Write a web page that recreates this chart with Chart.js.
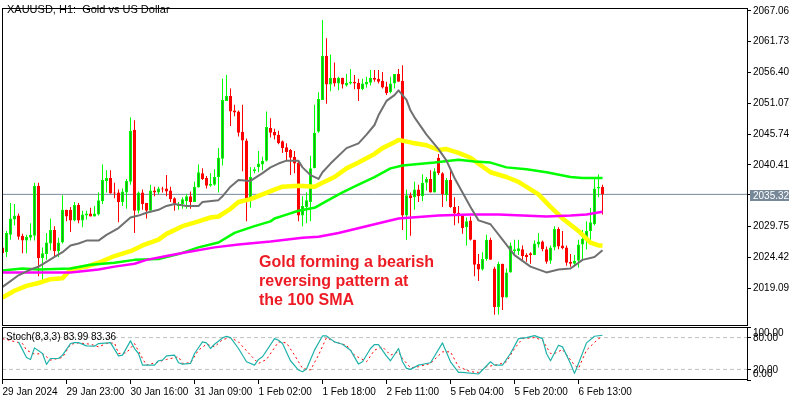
<!DOCTYPE html>
<html>
<head>
<meta charset="utf-8">
<style>
html,body{margin:0;padding:0;background:#fff;width:800px;height:400px;overflow:hidden}
canvas{position:absolute;left:0}
#mainBox{position:absolute;left:0;top:0;width:800px;height:327px}
#stochBox{position:absolute;left:0;top:326px;width:800px;height:74px}
</style>
<script src="https://cdn.jsdelivr.net/npm/chart.js@4/dist/chart.umd.js"></script>
</head>
<body>
<div id="mainBox"><canvas id="mainChart"></canvas></div>
<div id="stochBox"><canvas id="stochChart"></canvas></div>
<script>
const chartTitle = "XAUUSD, H1:  Gold vs US Dollar";
const noteLines = ["Gold forming a bearish", "reversing pattern at", "the 100 SMA"];
const stochLabel = "Stoch(8,3,3) 83.99 83.36";
const bidPrice = 2035.32;
const priceTicks = [2067.06,2061.73,2056.40,2051.07,2045.74,2040.41,2029.75,2024.42,2019.09];
const stochTicks = [100,80,20,0];
const stochLevels = [80,20];
const timeTickBars = [0,16,32,48,64,80,96,112,128,144];
const timeTickLabels = ["29 Jan 2024","29 Jan 23:00","30 Jan 16:00","31 Jan 09:00","1 Feb 02:00","1 Feb 18:00","2 Feb 11:00","5 Feb 04:00","5 Feb 20:00","6 Feb 13:00"];

const opens = [2026.15,2025.32,2028.32,2030.99,2031.65,2028.15,2027.32,2027.82,2028.15,2036.82,
2024.32,2024.99,2026.82,2029.15,2025.49,2026.99,2032.65,2032.65,2030.82,2033.49,
2030.82,2031.65,2031.99,2031.49,2031.82,2034.15,2037.65,2038.15,2035.65,2035.65,
2033.99,2035.65,2037.49,2046.49,2032.49,2035.65,2033.82,2032.49,2035.99,2035.65,
2036.32,2036.32,2035.99,2034.65,2033.32,2033.65,2034.15,2034.99,2033.99,2036.49,
2038.99,2038.15,2036.82,2036.99,2038.32,2041.49,2051.49,2052.32,2049.82,2049.65,
2046.15,2044.65,2034.65,2039.32,2039.99,2040.49,2041.15,2046.82,2046.15,2045.65,
2044.49,2043.49,2042.99,2041.82,2040.82,2031.65,2033.15,2033.99,2039.82,2046.15,
2051.65,2059.32,2054.32,2055.49,2054.49,2055.49,2054.15,2054.49,2054.82,2054.65,
2053.49,2054.32,2054.65,2055.49,2055.32,2054.99,2053.99,2052.99,2054.49,2056.15,
2054.99,2031.65,2035.15,2034.82,2036.15,2034.99,2037.32,2037.99,2035.65,2041.65,
2038.99,2035.15,2037.82,2033.15,2032.15,2031.82,2029.65,2030.82,2027.49,2023.32,
2022.32,2024.15,2027.49,2022.49,2015.82,2023.32,2017.49,2021.82,2025.49,2025.49,
2025.82,2024.82,2025.15,2024.82,2026.65,2027.15,2025.82,2023.82,2026.15,2029.32,
2026.49,2026.15,2023.65,2023.32,2023.82,2026.65,2027.65,2028.99,2030.15,2036.32,2036.65];
const highs = [2026.65,2028.99,2033.82,2033.65,2031.99,2028.49,2028.32,2030.32,2037.32,2037.32,
2026.15,2028.65,2031.15,2029.82,2027.82,2035.15,2032.65,2033.15,2033.99,2033.82,
2032.49,2032.49,2032.99,2033.32,2035.65,2040.49,2039.49,2039.49,2037.32,2036.15,
2036.32,2037.99,2048.65,2048.15,2035.82,2036.15,2033.82,2036.99,2036.65,2036.65,
2036.65,2038.65,2036.65,2034.82,2033.99,2034.82,2035.32,2035.82,2037.49,2040.49,
2039.82,2038.49,2038.99,2039.65,2043.32,2055.32,2055.99,2053.65,2050.82,2049.82,
2050.82,2044.99,2039.99,2039.99,2042.82,2041.82,2049.65,2048.49,2046.65,2046.32,
2044.65,2044.15,2043.15,2042.82,2041.15,2034.99,2035.65,2041.99,2050.82,2052.99,
2065.49,2062.32,2059.49,2058.15,2055.65,2055.49,2056.15,2056.99,2055.99,2055.32,
2055.32,2055.65,2056.82,2056.82,2056.82,2056.49,2054.82,2055.65,2056.15,2056.99,
2057.65,2036.15,2035.65,2037.49,2036.99,2038.82,2038.32,2039.49,2039.82,2042.32,
2039.15,2038.15,2039.82,2034.82,2033.32,2031.82,2031.32,2031.49,2027.49,2024.99,
2025.32,2028.32,2027.82,2022.82,2023.65,2023.32,2022.49,2026.99,2027.49,2027.49,
2026.49,2025.15,2025.32,2027.32,2028.65,2027.32,2026.32,2026.49,2029.82,2029.65,
2028.99,2026.49,2024.99,2024.82,2027.49,2029.15,2030.65,2032.99,2038.15,2038.82,2036.99];
const lows = [2024.82,2024.49,2027.49,2029.99,2027.49,2025.15,2025.15,2027.32,2027.32,2021.15,
2020.32,2023.99,2025.65,2024.49,2024.49,2026.82,2030.65,2028.82,2030.65,2030.32,
2029.65,2030.99,2031.49,2031.49,2031.65,2033.65,2035.65,2035.49,2034.65,2030.49,
2033.32,2032.82,2036.99,2028.65,2031.99,2032.65,2031.15,2032.49,2034.99,2035.32,
2035.65,2034.99,2033.99,2032.49,2032.65,2032.82,2032.82,2032.82,2033.99,2036.49,
2037.82,2036.32,2036.65,2036.82,2035.65,2040.32,2051.49,2047.15,2048.82,2045.32,
2039.32,2030.65,2032.99,2038.99,2039.15,2039.49,2040.99,2045.15,2044.82,2043.99,
2042.49,2041.15,2038.65,2038.99,2030.65,2029.82,2030.32,2030.65,2039.82,2045.99,
2051.65,2050.99,2053.15,2053.99,2053.32,2053.65,2053.99,2054.32,2053.49,2051.49,
2053.32,2053.82,2054.15,2054.82,2054.49,2053.65,2052.49,2052.82,2053.65,2054.82,
2029.15,2027.49,2028.15,2032.65,2033.99,2034.15,2035.99,2035.65,2035.65,2038.65,
2033.15,2034.15,2032.99,2029.99,2030.32,2028.49,2026.49,2027.32,2021.15,2020.32,
2022.15,2023.82,2023.99,2014.49,2014.49,2015.32,2017.49,2021.82,2024.82,2024.82,
2023.65,2023.65,2023.32,2024.82,2026.15,2025.49,2023.32,2023.32,2025.65,2025.82,
2025.82,2022.99,2022.82,2022.82,2022.65,2024.15,2025.82,2027.32,2029.99,2034.82,2031.82];
const closes = [2025.15,2028.65,2031.15,2031.65,2027.99,2027.32,2027.99,2028.32,2036.82,2024.32,
2025.15,2026.99,2029.15,2025.49,2026.99,2032.65,2031.49,2030.82,2033.49,2030.82,
2031.82,2031.99,2031.49,2031.99,2034.32,2037.82,2038.15,2035.49,2035.49,2033.99,
2035.82,2037.65,2046.32,2032.49,2035.65,2033.65,2032.49,2035.99,2035.65,2036.32,
2036.15,2035.82,2034.49,2033.65,2033.49,2034.49,2034.99,2033.99,2036.65,2039.15,
2037.99,2036.82,2037.15,2038.32,2041.65,2051.65,2052.32,2049.65,2049.49,2045.99,
2044.65,2034.49,2038.32,2039.65,2040.65,2041.15,2046.99,2045.99,2045.49,2044.15,
2043.32,2042.65,2041.65,2040.65,2031.65,2033.32,2034.32,2039.82,2045.99,2051.82,
2059.32,2054.32,2055.49,2054.49,2055.49,2054.32,2054.65,2054.82,2054.49,2053.49,
2054.49,2054.82,2055.49,2055.15,2054.82,2053.82,2052.82,2054.49,2056.15,2054.82,
2031.65,2035.15,2034.65,2036.15,2034.99,2037.32,2037.99,2035.65,2039.32,2038.99,
2035.32,2037.82,2033.15,2031.99,2031.82,2029.49,2030.65,2027.49,2023.15,2022.32,
2024.15,2027.49,2023.99,2015.82,2023.32,2017.49,2021.82,2026.49,2025.82,2025.99,
2024.65,2024.49,2024.82,2026.82,2027.15,2025.82,2023.65,2026.15,2029.32,2026.32,
2025.99,2023.49,2023.32,2023.82,2026.65,2027.65,2028.99,2030.49,2036.32,2036.65,2035.32];

const grayBars = [0,2,4,7,9,11,13,15,17,19,21,24,26,29,32,34,36,39,41,43,46,49,50,54,55,57,59,62,65,67,69,71,74,75,77,79,80,82,86,89,91,93,94,96,98,99,101,102,103,106,109,111,113,117,119,122,125,128,132,136,139,142,145,148,150];
const grayValues = [2019.32,2020.32,2021.32,2022.32,2022.82,2023.65,2024.49,2025.32,2026.49,2026.82,2027.32,2027.32,2028.32,2029.49,2031.32,2031.65,2032.15,2032.65,2033.32,2033.65,2033.32,2033.32,2033.99,2034.32,2034.99,2036.65,2037.82,2037.65,2038.99,2039.99,2040.65,2041.15,2041.15,2039.99,2038.65,2037.99,2039.15,2040.65,2043.32,2044.15,2045.65,2047.32,2048.99,2051.49,2052.49,2053.32,2051.65,2049.82,2048.65,2045.65,2043.15,2041.15,2038.15,2033.15,2030.82,2030.15,2027.49,2024.82,2022.82,2021.82,2022.32,2022.49,2023.99,2024.49,2025.65];
const yellowBars = [0,3,6,9,12,15,17,21,24,28,32,35,39,41,45,49,52,54,57,59,62,65,68,70,74,78,80,83,86,89,93,95,98,99,102,103,106,109,111,114,117,119,122,126,129,134,137,140,144,147,149,150];
const yellowValues = [2017.49,2018.65,2019.49,2019.99,2020.65,2020.82,2022.32,2022.82,2023.49,2024.65,2025.49,2026.49,2027.49,2028.49,2029.82,2030.65,2031.32,2031.49,2032.82,2033.99,2034.49,2035.32,2036.15,2036.65,2036.82,2036.65,2037.32,2038.32,2039.82,2040.82,2042.32,2043.32,2044.32,2044.74,2044.32,2044.15,2043.82,2042.99,2043.15,2042.49,2041.65,2040.65,2039.15,2038.32,2037.49,2035.32,2033.15,2031.15,2028.99,2026.99,2026.49,2026.49];
const greenBars = [0,5,9,17,22,28,33,39,44,49,54,58,63,67,68,71,74,78,81,85,89,93,97,100,108,114,118,122,126,131,136,142,145,150];
const greenValues = [2022.15,2022.49,2022.32,2022.49,2023.15,2023.49,2023.99,2024.15,2024.99,2026.15,2026.99,2028.65,2029.82,2030.65,2031.15,2031.82,2032.49,2032.99,2034.15,2035.65,2036.99,2038.32,2039.82,2040.32,2040.82,2041.32,2040.99,2040.82,2039.99,2039.65,2039.15,2038.32,2038.15,2038.15];
const magentaBars = [0,17,24,28,33,36,41,46,53,59,67,75,79,84,92,99,109,117,124,136,142,146,150];
const magentaValues = [2021.82,2021.82,2022.32,2022.82,2023.32,2023.99,2024.65,2025.32,2026.15,2026.65,2027.15,2027.82,2027.99,2028.65,2029.99,2031.15,2031.65,2031.82,2031.82,2031.49,2031.65,2031.82,2032.32];

const stochMainBars = [4,6,7,8,10,11,12,14,15,17,18,19,21,23,24,27,29,30,32,33,34,35,38,39,40,41,43,44,45,47,48,50,51,52,53,55,56,57,59,61,63,64,65,68,69,70,72,74,75,76,78,80,81,83,85,87,89,90,92,93,94,96,97,99,100,101,102,104,107,110,112,114,115,119,122,123,125,127,129,131,133,135,136,137,139,140,142,143,144,146,148,150];
const stochMainValues = [71.9,42.5,38.8,60.6,50,29.4,40.6,40.6,46.9,68.8,70.6,70.6,64.4,63.8,68.8,70.6,45.6,46.9,73.8,59.4,50,28.1,28.1,36.3,37.5,45.6,46.9,32.5,30,31.3,50,71.9,70,59.4,67.5,79.4,82.5,80,59.4,34.4,28.1,38.8,43.8,78.1,75,68.8,36.3,18.8,15.6,20.6,56.3,83.1,83.1,71.9,67.5,56.3,30,34.4,59.4,66.9,66.9,45,36.3,59.4,34.4,21.9,20,28.1,32.5,70,34.4,14.4,14.4,11.3,34.4,28.1,28.1,50,78.1,80,83.8,78.1,50,36.3,65.6,62.5,31.3,12.5,31.3,70,82.5,84.4];
const stochSignalBars = [0,5,6,8,10,12,15,17,19,22,24,26,28,29,31,33,35,36,39,41,44,45,47,49,51,53,55,57,59,62,64,66,69,71,73,75,77,79,81,83,86,88,91,93,95,97,99,100,102,104,107,110,112,114,117,119,121,124,126,128,130,133,135,137,138,140,143,144,146,149,150];
const stochSignalValues = [78.1,68.8,56.3,48.8,50,37.5,42.5,67.5,70,67.5,62.5,68.8,70,50,51.3,68.8,40.6,28.1,34.4,38.8,43.8,31.3,32.5,56.3,67.5,62.5,76.3,80,71.9,46.9,31.3,38.8,71.9,70,46.9,21.9,18.8,46.9,80,71.9,65.6,46.9,34.4,56.3,62.5,46.9,53.1,40.6,23.1,25,31.3,53.1,53.1,25,15.6,14.4,25,29.4,34.4,59.4,78.1,80,75,50,50,57.5,28.1,21.9,56.3,78.1,81.3];

const UP = "#00ff00", UP_FILL = "#1f9f1f", DOWN = "#ff0000", SLATE = "#778899";
const xMin = -0.125, xMax = 186.125;
const FONT = '"Liberation Sans", Arial, sans-serif';
const AX_SIZE = 10;

const pairs = (xs, ys) => xs.map((x, i) => ({x, y: ys[i]}));
const isUp = i => closes[i] >= opens[i];
const lineDs = (xs, ys, color, width, order, extra) => Object.assign({
  type: "line", data: pairs(xs, ys), borderColor: color, borderWidth: width,
  pointRadius: 0, tension: 0, order, borderCapStyle: "butt", borderJoinStyle: "round"
}, extra || {});

const frame = (ctx, a, fixBottom) => {
  ctx.fillStyle = "#000";
  const l = 2, r = 747, t = Math.round(a.top), b = fixBottom;
  ctx.fillRect(l, t, r - l + 1, 1);
  ctx.fillRect(l, b, r - l + 1, 1);
  ctx.fillRect(l, t, 1, b - t + 1);
  ctx.fillRect(r, t, 1, b - t + 1);
};

const mainPlugin = {
  id: "mainOverlay",
  afterDraw(chart) {
    const ctx = chart.ctx;
    frame(ctx, chart.chartArea, 325);
    ctx.save();
    ctx.textBaseline = "alphabetic"; ctx.textAlign = "left";
    ctx.fillStyle = "#000"; ctx.font = "11px " + FONT;
    ctx.fillText(chartTitle, 7, 13);
    ctx.fillStyle = "#ed1c24"; ctx.font = "bold 16px " + FONT;
    noteLines.forEach((t, i) => ctx.fillText(t, 259, 267 + 19 * i));
    const y = chart.scales.y.getPixelForValue(bidPrice);
    ctx.fillStyle = "#000"; ctx.fillRect(747, Math.floor(y), 4, 1);
    ctx.fillStyle = SLATE; ctx.fillRect(750, 190, 39, 11);
    ctx.fillStyle = "#fff"; ctx.font = AX_SIZE + "px " + FONT;
    ctx.fillText(bidPrice.toFixed(2), 753, 199);
    ctx.restore();
  }
};

new Chart(document.getElementById("mainChart"), {
  type: "bar",
  plugins: [mainPlugin],
  data: {
    datasets: [
      lineDs(greenBars, greenValues, "#00ff00", 2.5, 2),
      lineDs(magentaBars, magentaValues, "#ff00ff", 2.5, 1),
      lineDs(yellowBars, yellowValues, "#ffff00", 4.5, 3),
      lineDs(grayBars, grayValues, "#707070", 2, 0),
      {
        type: "bar", grouped: false, order: 5, barThickness: 3, borderWidth: 1, borderSkipped: false, inflateAmount: 0, minBarLength: 1,
        data: opens.map((o, i) => ({x: i, y: [o, closes[i]]})),
        backgroundColor: opens.map((_, i) => isUp(i) ? UP_FILL : DOWN),
        borderColor: opens.map((_, i) => isUp(i) ? UP : DOWN)
      },
      {
        type: "bar", grouped: false, order: 6, barThickness: 1, borderWidth: 0, inflateAmount: 0,
        data: highs.map((h, i) => ({x: i, y: [lows[i], h]})),
        backgroundColor: opens.map((_, i) => isUp(i) ? UP : DOWN)
      },
      lineDs([xMin, xMax], [bidPrice, bidPrice], SLATE, 1, 7)
    ]
  },
  options: {
    responsive: true, maintainAspectRatio: false, animation: false, events: [],
    layout: {padding: {left: 2, top: 2, right: 0, bottom: 2}},
    plugins: {legend: {display: false}, tooltip: {enabled: false}, title: {display: false}},
    scales: {
      x: {type: "linear", min: xMin, max: xMax, offset: false, display: false, grid: {offset: false, display: false}},
      y: {
        type: "linear", position: "right", min: 2013.76, max: 2067.56, beginAtZero: false,
        afterBuildTicks: s => { s.ticks = priceTicks.map(v => ({value: v})); },
        afterFit: s => { s.width = 53; },
        grid: {drawOnChartArea: false, drawTicks: true, tickLength: 4, color: "#000"},
        border: {display: false},
        ticks: {color: "#000", padding: 2, font: {family: FONT, size: AX_SIZE}, callback: v => Number(v).toFixed(2), autoSkip: false}
      }
    }
  }
});

const stochPlugin = {
  id: "stochOverlay",
  afterDraw(chart) {
    const ctx = chart.ctx;
    frame(ctx, chart.chartArea, 53);
    ctx.save();
    ctx.textBaseline = "alphabetic"; ctx.textAlign = "left";
    ctx.fillStyle = "#000"; ctx.font = AX_SIZE + "px " + FONT;
    ctx.fillText(stochLabel, 6, 14);
    const labelY = {100: 10, 80: 15, 20: 47, 0: 51};
    stochTicks.forEach(v => ctx.fillText(v.toFixed(2), 753, labelY[v]));
    ctx.restore();
  }
};

new Chart(document.getElementById("stochChart"), {
  type: "line",
  plugins: [stochPlugin],
  data: {
    datasets: [
      lineDs([xMin, xMax], [stochLevels[0], stochLevels[0]], "#c0c0c0", 1, 3, {borderDash: [4, 3]}),
      lineDs([xMin, xMax], [stochLevels[1], stochLevels[1]], "#c0c0c0", 1, 3, {borderDash: [4, 3]}),
      lineDs(stochSignalBars, stochSignalValues, "#ff0000", 1, 1, {borderDash: [2, 3]}),
      lineDs(stochMainBars, stochMainValues, "#20b2aa", 1.2, 0)
    ]
  },
  options: {
    responsive: true, maintainAspectRatio: false, animation: false, events: [],
    layout: {padding: {left: 2, top: 1, right: 0, bottom: 0}},
    plugins: {legend: {display: false}, tooltip: {enabled: false}, title: {display: false}},
    scales: {
      x: {
        type: "linear", min: xMin, max: xMax, offset: false,
        afterBuildTicks: s => { s.ticks = timeTickBars.map(v => ({value: v})); },
        afterFit: s => { s.height = 20; },
        grid: {drawOnChartArea: false, tickLength: 4, color: "#000", offset: false},
        border: {display: false},
        ticks: {
          color: "#000", padding: 2, maxRotation: 0, minRotation: 0, autoSkip: false, align: "start",
          font: {family: FONT, size: AX_SIZE},
          callback: v => timeTickLabels[timeTickBars.indexOf(v)]
        }
      },
      y: {
        type: "linear", position: "right", min: 0, max: 100,
        afterBuildTicks: s => { s.ticks = stochTicks.map(v => ({value: v})); },
        afterFit: s => { s.width = 53; },
        grid: {drawOnChartArea: false, tickLength: 4, color: "#000"},
        border: {display: false},
        ticks: {display: false}
      }
    }
  }
});
</script>
</body>
</html>
